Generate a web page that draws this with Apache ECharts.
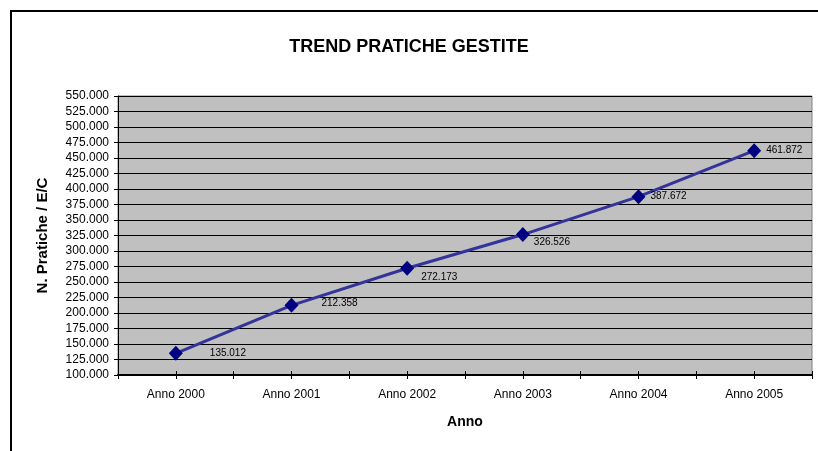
<!DOCTYPE html>
<html>
<head>
<meta charset="utf-8">
<script src="https://cdn.jsdelivr.net/npm/echarts@6/dist/echarts.min.js"></script>
<style>html,body{margin:0;padding:0;background:#fff}#c{width:818px;height:451px}</style>
</head>
<body>
<div id="c"></div>
<script>
const categories = ['Anno 2000','Anno 2001','Anno 2002','Anno 2003','Anno 2004','Anno 2005'];
const values = [135012, 212358, 272173, 326526, 387672, 461872];
const labelOffsets = [[22,0],[18,-2],[2,9],[-1,8],[0,0],[0,0]];
const titleText = 'TREND PRATICHE GESTITE';
const yName = 'N. Pratiche / E/C';
const xName = 'Anno';

function fmt(v){ return Math.round(v).toString().replace(/\B(?=(\d{3})+(?!\d))/g,'.'); }

const chart = echarts.init(document.getElementById('c'), null, {renderer:'canvas'});
const ff = 'Arial, "Liberation Sans", sans-serif';
chart.setOption({
  animation:false,
  backgroundColor:'#ffffff',
  graphic:[{type:'rect', shape:{x:11, y:11, width:830, height:470}, style:{fill:'none', stroke:'#000', lineWidth:2}, z:100}],
  title:{text:titleText, left:'center', top:33, textStyle:{fontFamily:ff, fontSize:18, fontWeight:'bold', color:'#000'}},
  grid:{left:118, right:6, top:96, bottom:76, show:true, backgroundColor:'#c0c0c0', borderColor:'#808080', borderWidth:1},
  xAxis:[
    {type:'category', position:'bottom', data:categories, boundaryGap:true, name:xName, nameLocation:'middle', nameGap:40,
     nameTextStyle:{fontFamily:ff, fontSize:14, fontWeight:'bold', color:'#000'},
     axisLine:{lineStyle:{color:'#000', width:2}}, axisTick:{show:false},
     axisLabel:{fontFamily:ff, fontSize:12, color:'#000', margin:14}},
    {type:'category', position:'bottom', data:categories, boundaryGap:true, offset:-4, axisLine:{show:false}, axisLabel:{show:false},
     axisTick:{show:true, length:8, lineStyle:{color:'#000', width:1}}},
    {type:'category', position:'bottom', data:categories, boundaryGap:true, offset:-4, axisLine:{show:false}, axisLabel:{show:false},
     axisTick:{show:true, alignWithLabel:true, length:8, lineStyle:{color:'#000', width:1}}}
  ],
  yAxis:{type:'value', min:100000, max:550000, interval:25000, name:yName, nameLocation:'middle', nameGap:68,
    nameTextStyle:{fontFamily:ff, fontSize:15, fontWeight:'bold', color:'#000'},
    axisLine:{show:true, lineStyle:{color:'#000', width:1}},
    axisTick:{show:true, length:4, lineStyle:{color:'#000'}},
    axisLabel:{fontFamily:ff, fontSize:12, color:'#000', margin:9, formatter:fmt},
    splitLine:{show:true, lineStyle:{color:'#000', width:1}}},
  series:[{
    type:'line', xAxisIndex:0,
    data: values.map((v,i)=>({value:v, label:{offset:labelOffsets[i]}})),
    symbol:'diamond', symbolSize:[14,15],
    lineStyle:{color:'#333399', width:3},
    itemStyle:{color:'#000080'},
    label:{show:true, position:'right', distance:5, formatter:p=>fmt(p.value),
      fontFamily:ff, fontSize:10, color:'#000'}
  }]
});
</script>
</body>
</html>
